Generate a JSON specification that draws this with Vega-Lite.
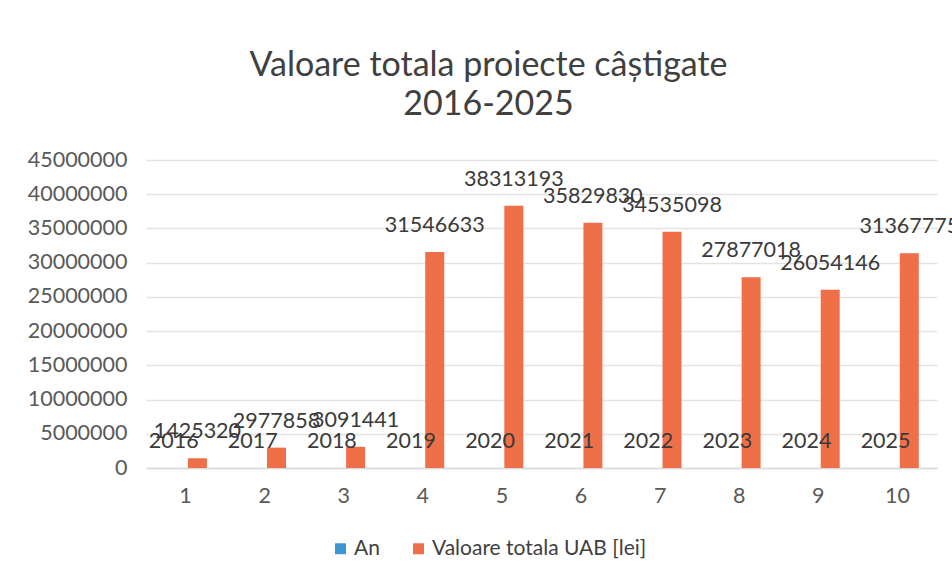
{
  "$schema": "https://vega.github.io/schema/vega-lite/v6.json",
  "width": 791,
  "height": 308,
  "autosize": "none",
  "padding": {"left": 146, "top": 160, "right": 15, "bottom": 114},
  "background": "white",
  "config": {
    "view": {"stroke": null},
    "font": "Lato",
    "axis": {"labelFont": "Lato", "labelColor": "#595959", "labelFontSize": 21.5, "ticks": false},
    "legend": {"labelFont": "Lato"}
  },
  "title": {
    "text": ["Valoare totala proiecte câștigate", "2016-2025"],
    "font": "Lato",
    "fontSize": 34,
    "fontWeight": "normal",
    "color": "#404040",
    "lineHeight": 39,
    "anchor": "middle",
    "dx": -53,
    "offset": 27
  },
  "data": {
    "values": [
      {"n": 1, "serie": "An", "v": 2016},
      {"n": 2, "serie": "An", "v": 2017},
      {"n": 3, "serie": "An", "v": 2018},
      {"n": 4, "serie": "An", "v": 2019},
      {"n": 5, "serie": "An", "v": 2020},
      {"n": 6, "serie": "An", "v": 2021},
      {"n": 7, "serie": "An", "v": 2022},
      {"n": 8, "serie": "An", "v": 2023},
      {"n": 9, "serie": "An", "v": 2024},
      {"n": 10, "serie": "An", "v": 2025},
      {"n": 1, "serie": "Valoare totala UAB [lei]", "v": 1425320},
      {"n": 2, "serie": "Valoare totala UAB [lei]", "v": 2977858},
      {"n": 3, "serie": "Valoare totala UAB [lei]", "v": 3091441},
      {"n": 4, "serie": "Valoare totala UAB [lei]", "v": 31546633},
      {"n": 5, "serie": "Valoare totala UAB [lei]", "v": 38313193},
      {"n": 6, "serie": "Valoare totala UAB [lei]", "v": 35829830},
      {"n": 7, "serie": "Valoare totala UAB [lei]", "v": 34535098},
      {"n": 8, "serie": "Valoare totala UAB [lei]", "v": 27877018},
      {"n": 9, "serie": "Valoare totala UAB [lei]", "v": 26054146},
      {"n": 10, "serie": "Valoare totala UAB [lei]", "v": 31367775}
    ]
  },
  "encoding": {
    "x": {
      "field": "n", "type": "ordinal", "title": null,
      "scale": {"paddingInner": 0.4, "paddingOuter": 0.2},
      "axis": {"labelAngle": 0, "labelPadding": 17, "domainColor": "#d9d9d9", "domainWidth": 1.5}
    },
    "xOffset": {
      "field": "serie", "type": "nominal",
      "scale": {"paddingInner": 0.2, "paddingOuter": 0.1}
    },
    "y": {
      "field": "v", "type": "quantitative", "title": null,
      "scale": {"domain": [0, 45000000], "nice": false},
      "axis": {"values": [0, 5000000, 10000000, 15000000, 20000000, 25000000, 30000000, 35000000, 40000000, 45000000],
               "format": "d", "labelPadding": 19, "domain": false, "gridColor": "#e3e3e3", "gridWidth": 1.5}
    }
  },
  "layer": [
    {
      "mark": {"type": "bar"},
      "encoding": {
        "color": {
          "field": "serie", "type": "nominal", "title": null,
          "scale": {"domain": ["An", "Valoare totala UAB [lei]"], "range": ["#3D95D3", "#EF6F48"]},
          "legend": {
            "orient": "none", "direction": "horizontal", "legendX": 184, "legendY": 378,
            "symbolType": "square", "symbolSize": 120, "labelFontSize": 21, "labelColor": "#404040",
            "labelLimit": 400, "columnPadding": 28, "symbolOffset": 0, "labelOffset": 3
          }
        }
      }
    },
    {
      "mark": {"type": "text", "baseline": "bottom", "dy": -15, "fontSize": 21.5, "color": "#3a3a3a"},
      "encoding": {"text": {"field": "v", "type": "quantitative", "format": "d"}}
    }
  ]
}
